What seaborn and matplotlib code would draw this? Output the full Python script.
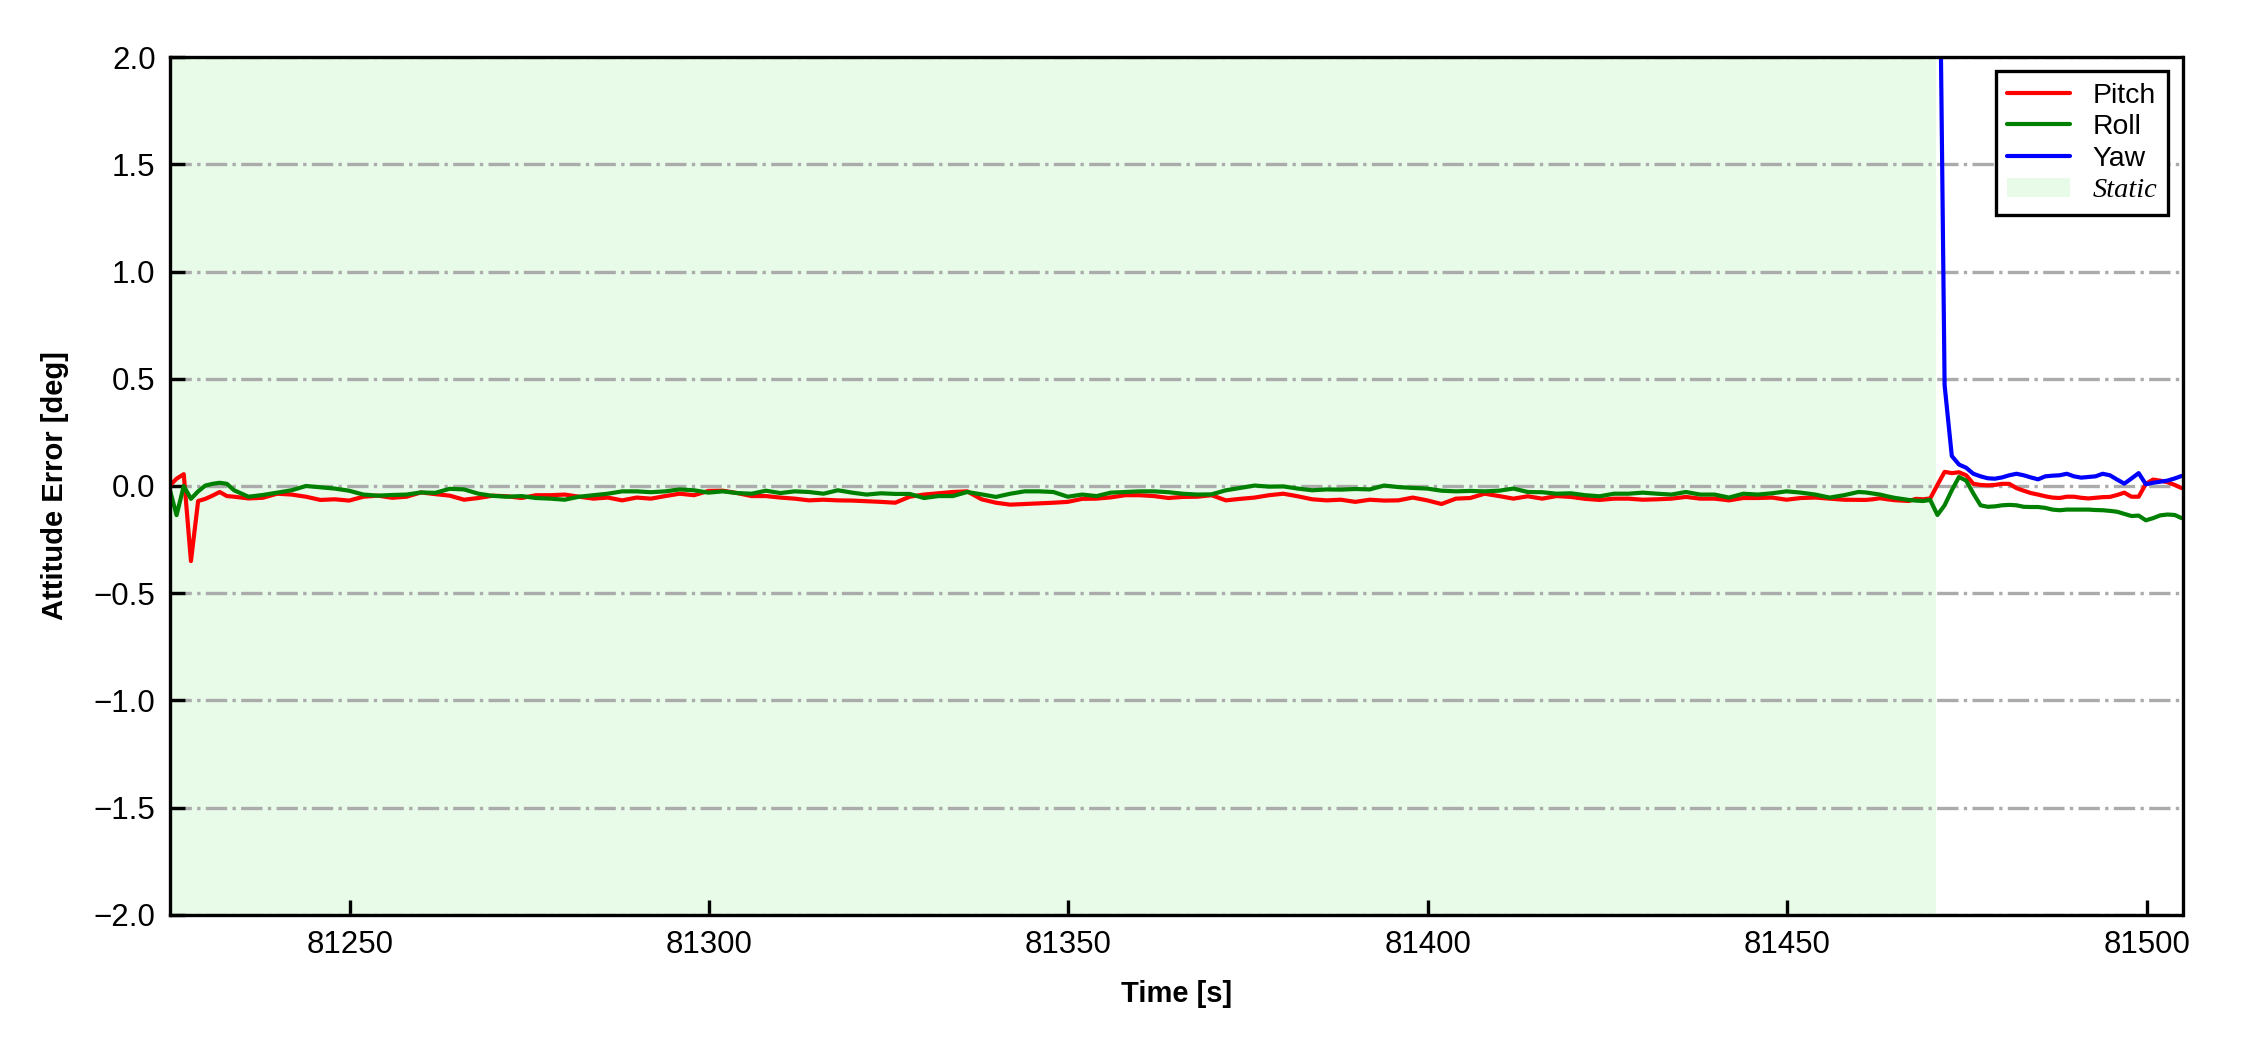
import numpy as np
import matplotlib
matplotlib.use("Agg")
import matplotlib.pyplot as plt
import seaborn as sns

# ==================
# Data
# ==================

# first seconds, 1 s samples
pitch_a = [0.0, 0.034, 0.055, -0.35, -0.07, -0.06, -0.045, -0.028, -0.047]
roll_a = [-0.01, -0.136, 0.0, -0.06, -0.025, 0.002, 0.01, 0.015, 0.01]

# static part, 2 s samples
pitch_b = [
    -0.05, -0.058, -0.055, -0.036, -0.04, -0.05, -0.065, -0.062, -0.068, -0.05,
    -0.045, -0.055, -0.05, -0.03, -0.038, -0.045, -0.064, -0.056, -0.045, -0.048,
    -0.056, -0.043, -0.043, -0.04, -0.05, -0.059, -0.054, -0.067, -0.054, -0.059,
    -0.047, -0.036, -0.043, -0.023, -0.022, -0.033, -0.047, -0.047, -0.054, -0.059,
    -0.067, -0.064, -0.067, -0.068, -0.071, -0.074, -0.078, -0.05, -0.04, -0.034,
    -0.028, -0.025, -0.062, -0.078, -0.087, -0.084, -0.081, -0.078, -0.074, -0.06,
    -0.059, -0.053, -0.043, -0.043, -0.047, -0.056, -0.051, -0.05, -0.043, -0.067,
    -0.06, -0.054, -0.043, -0.036, -0.048, -0.062, -0.067, -0.064, -0.074, -0.064,
    -0.068, -0.067, -0.054, -0.067, -0.084, -0.059, -0.056, -0.036, -0.047, -0.059,
    -0.048, -0.059, -0.047, -0.051, -0.06, -0.065, -0.059, -0.059, -0.064, -0.062,
    -0.059, -0.051, -0.059, -0.059, -0.067, -0.056, -0.056, -0.054, -0.064, -0.056,
    -0.054, -0.059, -0.064, -0.065,
]
roll_b = [
    -0.02, -0.05, -0.042, -0.031, -0.02, 0.0, -0.006, -0.012, -0.022, -0.04,
    -0.045, -0.042, -0.04, -0.03, -0.032, -0.013, -0.016, -0.036, -0.046, -0.05,
    -0.047, -0.056, -0.059, -0.064, -0.05, -0.043, -0.036, -0.025, -0.025, -0.029,
    -0.025, -0.016, -0.02, -0.031, -0.025, -0.033, -0.036, -0.022, -0.033, -0.025,
    -0.028, -0.036, -0.02, -0.031, -0.04, -0.034, -0.037, -0.037, -0.056, -0.047,
    -0.047, -0.028, -0.039, -0.051, -0.036, -0.025, -0.025, -0.028, -0.05, -0.04,
    -0.047, -0.031, -0.028, -0.025, -0.025, -0.029, -0.036, -0.04, -0.039, -0.02,
    -0.009, 0.002, -0.003, -0.002, -0.012, -0.02, -0.016, -0.017, -0.014, -0.016,
    0.002, -0.005, -0.009, -0.012, -0.022, -0.025, -0.023, -0.025, -0.022, -0.012,
    -0.028, -0.029, -0.036, -0.034, -0.043, -0.048, -0.036, -0.036, -0.031, -0.036,
    -0.04, -0.028, -0.04, -0.04, -0.054, -0.036, -0.04, -0.034, -0.025, -0.031,
    -0.04, -0.054, -0.043, -0.028,
]

# end of static part and motion, 1 s samples
pitch_c = [
    -0.065, -0.062, -0.057, -0.062, -0.066, -0.068, -0.07, -0.06, -0.062, -0.058,
    0.005, 0.066, 0.06, 0.064, 0.05, 0.01, 0.005, 0.003, 0.005, 0.01,
    0.01, -0.01, -0.022, -0.033, -0.04, -0.048, -0.054, -0.056, -0.05, -0.05,
    -0.055, -0.058, -0.055, -0.052, -0.051, -0.042, -0.031, -0.05, -0.05, 0.01,
    0.03, 0.025, 0.018, 0.005, -0.01,
]
roll_c = [
    -0.03, -0.035, -0.04, -0.048, -0.055, -0.06, -0.065, -0.068, -0.07, -0.065,
    -0.135, -0.09, -0.02, 0.042, 0.025, -0.035, -0.09, -0.097, -0.095, -0.09,
    -0.088, -0.09, -0.097, -0.098, -0.098, -0.102, -0.11, -0.113, -0.11, -0.11,
    -0.11, -0.11, -0.112, -0.113, -0.116, -0.12, -0.13, -0.14, -0.138, -0.16,
    -0.15, -0.137, -0.133, -0.135, -0.15,
]

# yaw only after the static part
yaw = [
    3.5, 0.47, 0.14, 0.10, 0.085, 0.057, 0.045, 0.036, 0.034, 0.04,
    0.05, 0.057, 0.05, 0.04, 0.031, 0.045, 0.048, 0.05, 0.057, 0.045,
    0.039, 0.042, 0.045, 0.057, 0.05, 0.03, 0.011, 0.035, 0.06, 0.008,
    0.015, 0.02, 0.025, 0.035, 0.047,
]

time_a = 81224.9 + np.arange(len(pitch_a))
time_b = 81233.9 + 2 * np.arange(len(pitch_b))
time_c = 81460.9 + np.arange(len(pitch_c))
time_yaw = 81470.9 + np.arange(len(yaw))

time_pr = np.concatenate([time_a, time_b, time_c])
pitch = np.concatenate([pitch_a, pitch_b, pitch_c])
roll = np.concatenate([roll_a, roll_b, roll_c])

static_start = 81220.0
static_end = 81470.7

x_limits = (81225.0, 81505.0)
y_ticks = [-2.0, -1.5, -1.0, -0.5, 0.0, 0.5, 1.0, 1.5, 2.0]

# ==================
# Style
# ==================

sns.set_style("ticks")
plt.rcParams["font.family"] = ["Liberation Sans", "DejaVu Sans"]
plt.rcParams["axes.linewidth"] = 0.8
plt.rcParams["text.color"] = "black"
plt.rcParams["axes.labelcolor"] = "black"
plt.rcParams["xtick.color"] = "black"
plt.rcParams["ytick.color"] = "black"

fig, ax = plt.subplots(figsize=(7.5, 3.5), dpi=300)
fig.subplots_adjust(left=0.0756, right=0.970, top=0.9457, bottom=0.1286)

span = ax.axvspan(
    static_start,
    static_end,
    color="lightgreen",
    alpha=0.2,
    linewidth=0,
    zorder=0,
    label="Static"
)

sns.lineplot(x=time_pr, y=pitch, color="red", linewidth=1.0, label="Pitch", ax=ax, sort=False)
sns.lineplot(x=time_pr, y=roll, color="green", linewidth=1.0, label="Roll", ax=ax, sort=False)
sns.lineplot(x=time_yaw, y=yaw, color="blue", linewidth=1.0, label="Yaw", ax=ax, sort=False)

ax.set_xlim(*x_limits)
ax.set_ylim(-2.0, 2.0)
ax.set_yticks(y_ticks)

ax.yaxis.grid(True, linestyle="-.", color="#ababab", linewidth=0.8)
ax.xaxis.grid(False)

for side in ["top", "right", "bottom", "left"]:
    ax.spines[side].set_visible(True)
    ax.spines[side].set_color("black")
    ax.spines[side].set_linewidth(0.8)

ax.tick_params(
    direction="in",
    length=3.5,
    width=0.8,
    labelsize=7.5,
    colors="black",
    top=False,
    right=False
)

ax.set_xlabel("Time [s]", fontsize=7, fontweight="bold", labelpad=5)
ax.set_ylabel("Attitude Error [deg]", fontsize=7, fontweight="bold", labelpad=6)

handles, labels = ax.get_legend_handles_labels()
order = ["Pitch", "Roll", "Yaw", "Static"]
handles = [handles[labels.index(name)] for name in order]

leg = ax.legend(
    handles,
    order,
    loc="upper right",
    fontsize=6.8,
    frameon=True,
    fancybox=False,
    edgecolor="black",
    framealpha=1.0,
    labelspacing=0.2,
    handlelength=2.2
)
leg.get_frame().set_linewidth(0.8)
for txt in leg.get_texts():
    if txt.get_text() == "Static":
        txt.set_fontfamily(["Liberation Serif", "DejaVu Serif"])
        txt.set_fontstyle("italic")

fig.savefig("out.png", dpi=300)
plt.close(fig)
